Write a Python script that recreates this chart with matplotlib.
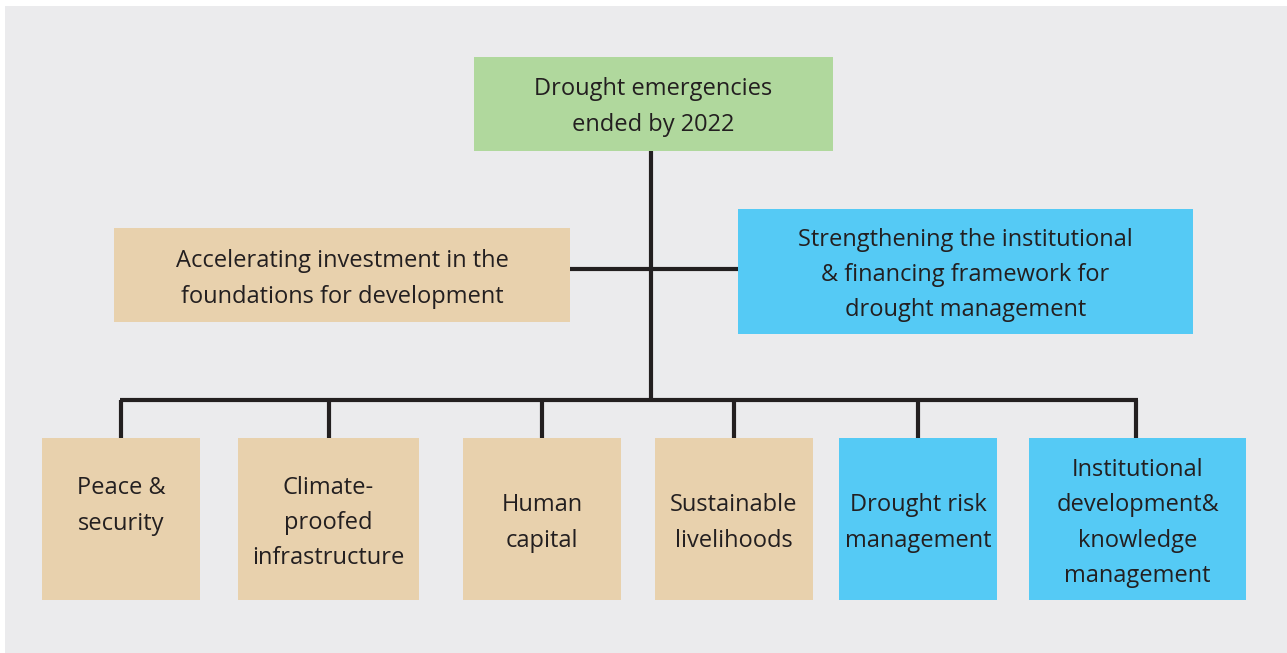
import matplotlib
matplotlib.use("Agg")
import matplotlib.pyplot as plt
from matplotlib.patches import Rectangle

# ---- data ----
top_label = "Drought emergencies\nended by 2022"
mid_labels = ["Accelerating investment in the\nfoundations for development",
              "Strengthening the institutional\n& financing framework for\ndrought management"]
mid_groups = ["tan", "blue"]
bottom_labels = ["Peace &\nsecurity", "Climate-\nproofed\ninfrastructure", "Human\ncapital",
                 "Sustainable\nlivelihoods", "Drought risk\nmanagement",
                 "Institutional\ndevelopment&\nknowledge\nmanagement"]
bottom_groups = ["tan", "tan", "tan", "tan", "blue", "blue"]

# ---- layout (pixels) ----
colors = {"tan": "#e8d1ad", "blue": "#55caf5", "green": "#b0d89d"}
line_c = "#231f20"
text_c = "#231f20"
W, H = 1287, 653

fig = plt.figure(figsize=(W / 100, H / 100), dpi=100)
ax = fig.add_axes([0, 0, 1, 1])
ax.set_xlim(0, W)
ax.set_ylim(H, 0)
ax.axis("off")
fig.patch.set_facecolor("white")

ax.add_patch(Rectangle((5, 6), W - 5, H - 6, facecolor="#ebebed", edgecolor="none", zorder=0))

font = dict(family=["Open Sans", "DejaVu Sans"], fontsize=17, color=text_c,
            ha="center", va="center", linespacing=1.63, zorder=5)

def box(x0, y0, x1, y1, col, label, ty=None):
    ax.add_patch(Rectangle((x0, y0), x1 - x0, y1 - y0, facecolor=colors[col],
                           edgecolor="none", zorder=3))
    ax.text((x0 + x1) / 2, (ty if ty is not None else (y0 + y1) / 2) + 3, label, **font)

lw = 3.0
# connectors
ax.plot([651, 651], [151, 400], color=line_c, lw=lw, zorder=2, solid_capstyle="butt")
ax.plot([570, 738], [269, 269], color=line_c, lw=lw, zorder=2, solid_capstyle="butt")
bx = [(42, 200), (238, 419), (463, 621), (655, 813), (839, 997), (1029, 1246)]
cx = [121, 329, 542, 734, 918, 1136]
ax.plot([cx[0] - 1.5, cx[-1] + 1.5], [400, 400], color=line_c, lw=lw, zorder=2, solid_capstyle="butt")
for c in cx:
    ax.plot([c, c], [400, 438], color=line_c, lw=lw, zorder=2, solid_capstyle="butt")

# boxes
box(474, 57, 833, 151, "green", top_label, 104)
box(114, 228, 570, 322, mid_groups[0], mid_labels[0], 276)
box(738, 209, 1193, 334, mid_groups[1], mid_labels[1], 272)

text_y = [503, 520, 520, 520, 520, 520]
for (x0, x1), g, lab, ty in zip(bx, bottom_groups, bottom_labels, text_y):
    box(x0, 438, x1, 600, g, lab, ty)

fig.savefig("out.png", dpi=100, facecolor="white")
